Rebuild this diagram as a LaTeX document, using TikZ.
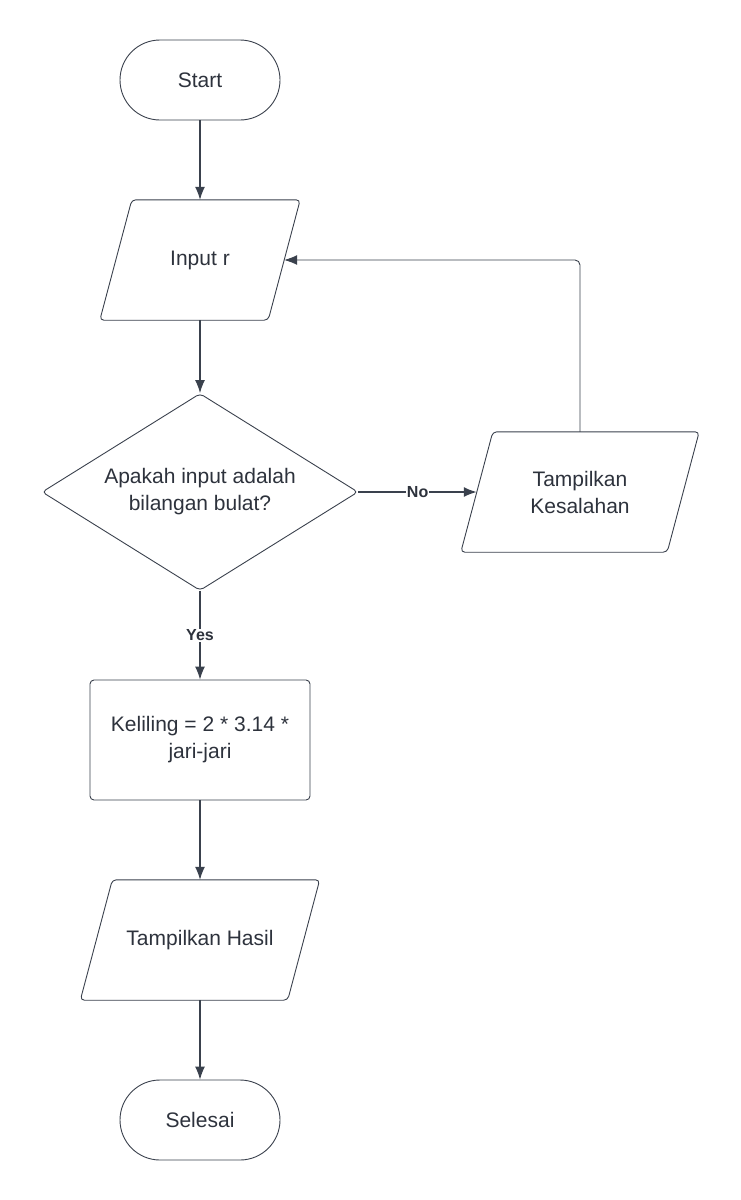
\documentclass[tikz,border=0pt]{standalone}
\usepackage{fontspec}
\setmainfont{Liberation Sans}
\usepackage{tikz}
\usetikzlibrary{positioning,arrows.meta,shapes.geometric}
\definecolor{lineclr}{RGB}{58,65,77}
\definecolor{textclr}{RGB}{45,50,60}

\begin{document}
\begin{tikzpicture}[x=1pt,y=-1pt,
		every node/.style={text=textclr,font=\fontsize{21}{27}\selectfont,align=center},
		outline/.style={draw=lineclr,line width=.9pt},
		terminal/.style={outline,rounded corners=40pt,minimum width=160pt,minimum height=80pt},
		io/.style={minimum height=120pt},
		process/.style={outline,rounded corners=4pt,minimum width=220pt,minimum height=120pt},
		decision/.style={outline,diamond,aspect=1.6,inner sep=0pt,rounded corners=4pt,minimum width=316pt,minimum height=197pt},
		flow/.style={draw=lineclr,line width=1.1pt,-{Latex[length=13pt,width=10pt]}},
		lbl/.style={fill=white,font=\fontsize{16}{18}\bfseries\selectfont,inner sep=1pt}]
		\useasboundingbox (0,0) rectangle (740,1200);

		\node[terminal] (start) at (200,80) {Start};
		\node[io,minimum width=168pt] (input) at (200,260) {Input r};
		\node[decision] (cek) at (200,492) {Apakah input adalah\\bilangan bulat?};
		\node[io,minimum width=206pt] (salah) at (580,492) {Tampilkan\\Kesalahan};
		\node[process] (hitung) at (200,740) {Keliling = 2 * 3.14 *\\jari-jari};
		\node[io,minimum width=207pt] (hasil) at (200,940) {Tampilkan Hasil};
		\node[terminal] (selesai) at (200,1120) {Selesai};

		% slanted sides of the input/output boxes
		\foreach \n in {input,salah,hasil}
			\draw[outline,rounded corners=4pt] ([xshift=16pt]\n.north west) -- ([xshift=16pt]\n.north east)
				-- ([xshift=-16pt]\n.south east) -- ([xshift=-16pt]\n.south west) -- cycle;

		\draw[flow] (start) -- (input);
		\draw[flow] (input) -- (cek);
		\draw[flow,line width=1.6pt] (cek.east) -- node[lbl] {No} (salah.west);
		\draw[flow] (cek) -- node[lbl] {Yes} (hitung);
		\draw[flow] (hitung) -- (hasil);
		\draw[flow] (hasil) -- (selesai);
		\draw[flow,line width=.9pt,rounded corners=5pt] (salah.north) |- (input.east);
	\end{tikzpicture}
\end{document}
